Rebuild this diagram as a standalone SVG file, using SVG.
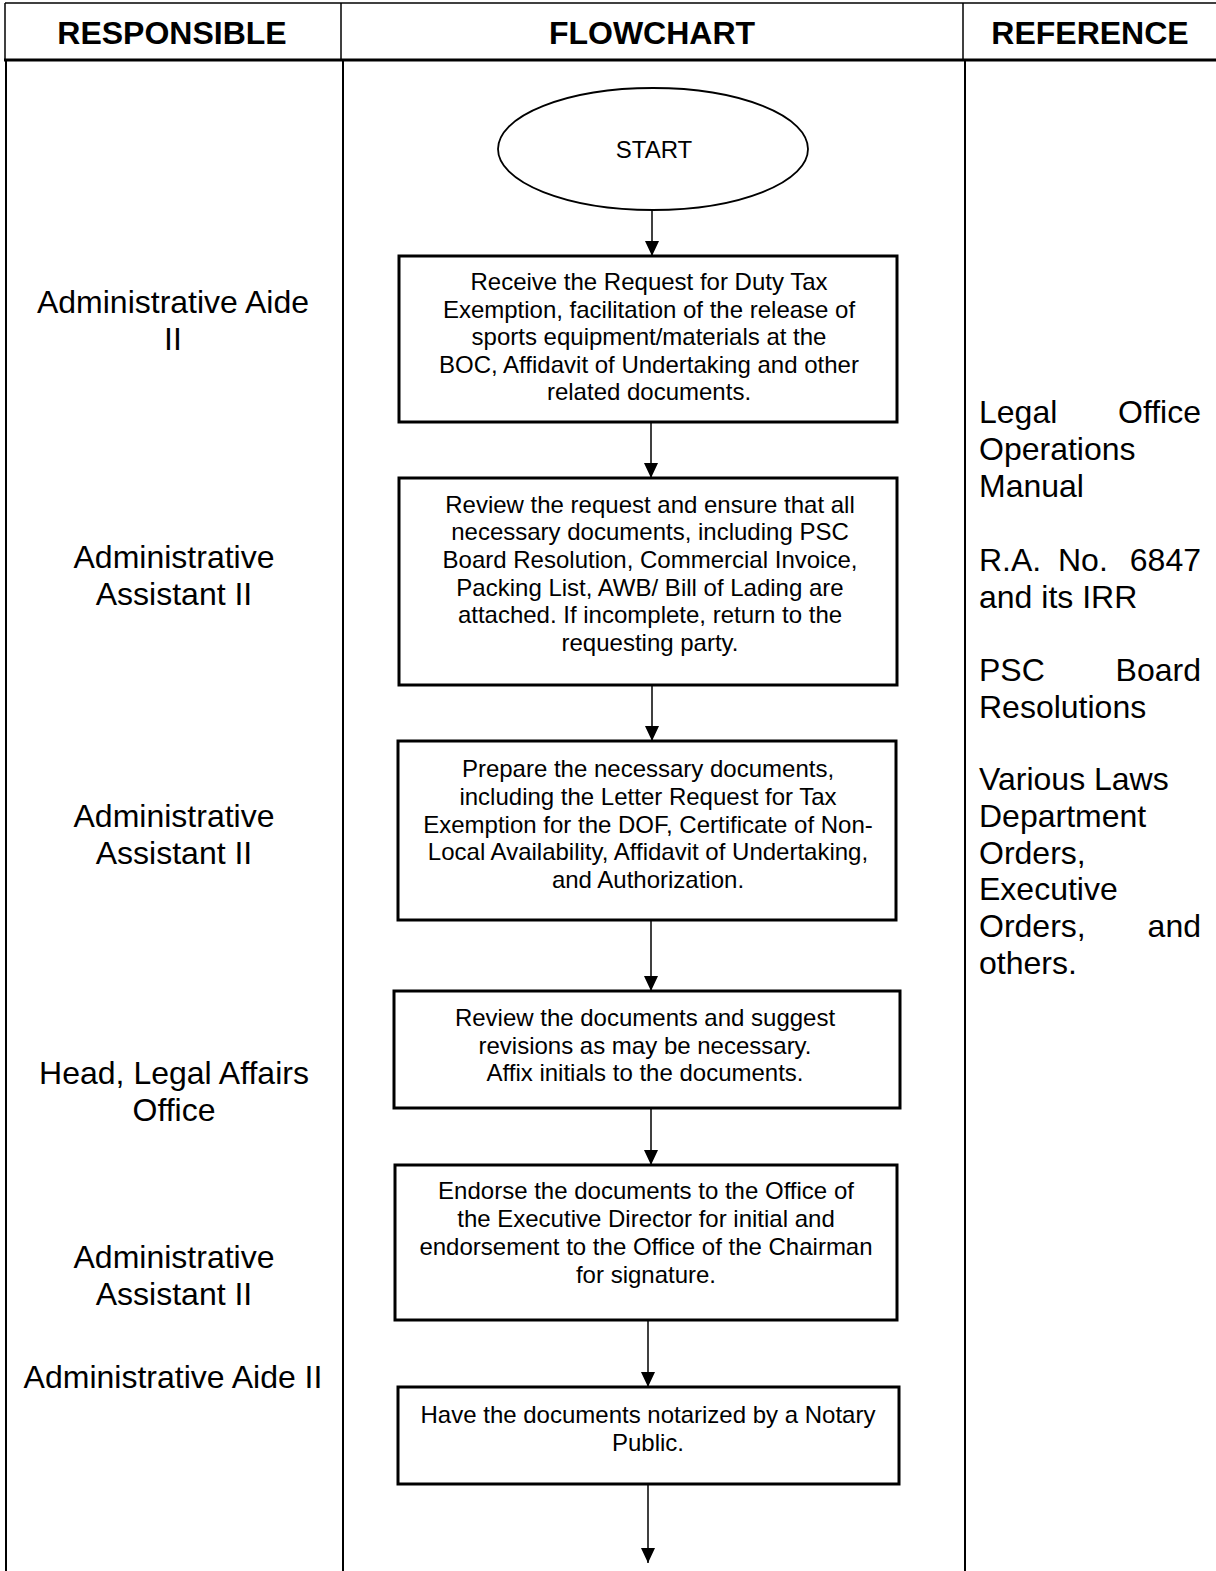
<svg xmlns="http://www.w3.org/2000/svg" width="1216" height="1571" viewBox="0 0 1216 1571">
<style>
.hd{font-family:"Liberation Sans",Arial,sans-serif;font-weight:bold;font-size:32px;text-anchor:middle;fill:#000}
.lc{font-family:"Liberation Sans",Arial,sans-serif;font-size:32px;text-anchor:middle;fill:#000}
.rc{font-family:"Liberation Sans",Arial,sans-serif;font-size:32px;fill:#000}
.bx{font-family:"Liberation Sans",Arial,sans-serif;font-size:24px;text-anchor:middle;fill:#000}
.box{fill:#fff;stroke:#000;stroke-width:3}
.conn{stroke:#000;stroke-width:1.5;fill:none}
.tl{stroke:#000;fill:none}
</style>
<defs>
<marker id="ah" viewBox="0 0 15 14" refX="15" refY="7" markerWidth="15" markerHeight="14" markerUnits="userSpaceOnUse" orient="auto">
<path d="M0,0 L15,7 L0,14 Z" fill="#000"/>
</marker>
</defs>
<rect width="1216" height="1571" fill="#fff"/>
<g id="table">
<line class="tl" x1="5" y1="3" x2="1216" y2="3" stroke-width="1.5" stroke="#333"/>
<line class="tl" x1="5" y1="3" x2="5" y2="60" stroke-width="1.5" stroke="#333"/>
<line class="tl" x1="6" y1="60" x2="6" y2="1571" stroke-width="2"/>
<line class="tl" x1="341" y1="3" x2="341" y2="60" stroke-width="1.5" stroke="#333"/>
<line class="tl" x1="963" y1="3" x2="963" y2="60" stroke-width="1.5" stroke="#333"/>
<line class="tl" x1="343" y1="60" x2="343" y2="1571" stroke-width="2"/>
<line class="tl" x1="965" y1="60" x2="965" y2="1571" stroke-width="2"/>
<line class="tl" x1="4" y1="60" x2="1216" y2="60" stroke-width="3"/>
<text class="hd" x="172" y="44">RESPONSIBLE</text>
<text class="hd" x="652" y="44">FLOWCHART</text>
<text class="hd" x="1090" y="44">REFERENCE</text>
</g>
<g id="responsible">
<text class="lc" x="173" y="313">Administrative Aide</text>
<text class="lc" x="173" y="350">II</text>
<text class="lc" x="174" y="568">Administrative</text>
<text class="lc" x="174" y="605">Assistant II</text>
<text class="lc" x="174" y="827">Administrative</text>
<text class="lc" x="174" y="864">Assistant II</text>
<text class="lc" x="174" y="1084">Head, Legal Affairs</text>
<text class="lc" x="174" y="1121">Office</text>
<text class="lc" x="174" y="1268">Administrative</text>
<text class="lc" x="174" y="1305">Assistant II</text>
<text class="lc" x="173" y="1388">Administrative Aide II</text>
</g>
<g id="reference">
<text class="rc" x="979" y="423">Legal</text>
<text class="rc" x="1201" y="423" text-anchor="end">Office</text>
<text class="rc" x="979" y="460">Operations</text>
<text class="rc" x="979" y="497">Manual</text>
<text class="rc" x="979" y="571">R.A.</text>
<text class="rc" x="1058" y="571">No.</text>
<text class="rc" x="1201" y="571" text-anchor="end">6847</text>
<text class="rc" x="979" y="608">and its IRR</text>
<text class="rc" x="979" y="681">PSC</text>
<text class="rc" x="1201" y="681" text-anchor="end">Board</text>
<text class="rc" x="979" y="718">Resolutions</text>
<text class="rc" x="979" y="790">Various Laws</text>
<text class="rc" x="979" y="827">Department</text>
<text class="rc" x="979" y="864">Orders,</text>
<text class="rc" x="979" y="900">Executive</text>
<text class="rc" x="979" y="937">Orders,</text>
<text class="rc" x="1201" y="937" text-anchor="end">and</text>
<text class="rc" x="979" y="974">others.</text>
</g>
<g id="connectors">
<line class="conn" x1="652" y1="210" x2="652" y2="256" marker-end="url(#ah)"/>
<line class="conn" x1="651" y1="422" x2="651" y2="478" marker-end="url(#ah)"/>
<line class="conn" x1="652" y1="685" x2="652" y2="741" marker-end="url(#ah)"/>
<line class="conn" x1="651" y1="920" x2="651" y2="991" marker-end="url(#ah)"/>
<line class="conn" x1="651" y1="1108" x2="651" y2="1165" marker-end="url(#ah)"/>
<line class="conn" x1="648" y1="1320" x2="648" y2="1387" marker-end="url(#ah)"/>
<line class="conn" x1="648" y1="1484" x2="648" y2="1563" marker-end="url(#ah)"/>
</g>
<g id="start">
<ellipse cx="653" cy="149" rx="155" ry="61" fill="#fff" stroke="#000" stroke-width="1.8"/>
<text class="bx" x="654" y="158">START</text>
</g>
<g id="step1">
<rect class="box" x="399" y="256" width="498" height="166"/>
<text class="bx" x="649" y="290">Receive the Request for Duty Tax</text>
<text class="bx" x="649" y="318">Exemption, facilitation of the release of</text>
<text class="bx" x="649" y="345">sports equipment/materials at the</text>
<text class="bx" x="649" y="373">BOC, Affidavit of Undertaking and other</text>
<text class="bx" x="649" y="400">related documents.</text>
</g>
<g id="step2">
<rect class="box" x="399" y="478" width="498" height="207"/>
<text class="bx" x="650" y="513">Review the request and ensure that all</text>
<text class="bx" x="650" y="540">necessary documents, including PSC</text>
<text class="bx" x="650" y="568">Board Resolution, Commercial Invoice,</text>
<text class="bx" x="650" y="596">Packing List, AWB/ Bill of Lading are</text>
<text class="bx" x="650" y="623">attached. If incomplete, return to the</text>
<text class="bx" x="650" y="651">requesting party.</text>
</g>
<g id="step3">
<rect class="box" x="398" y="741" width="498" height="179"/>
<text class="bx" x="648" y="777">Prepare the necessary documents,</text>
<text class="bx" x="648" y="805">including the Letter Request for Tax</text>
<text class="bx" x="648" y="833">Exemption for the DOF, Certificate of Non-</text>
<text class="bx" x="648" y="860">Local Availability, Affidavit of Undertaking,</text>
<text class="bx" x="648" y="888">and Authorization.</text>
</g>
<g id="step4">
<rect class="box" x="394" y="991" width="506" height="117"/>
<text class="bx" x="645" y="1026">Review the documents and suggest</text>
<text class="bx" x="645" y="1054">revisions as may be necessary.</text>
<text class="bx" x="645" y="1081">Affix initials to the documents.</text>
</g>
<g id="step5">
<rect class="box" x="395" y="1165" width="502" height="155"/>
<text class="bx" x="646" y="1199">Endorse the documents to the Office of</text>
<text class="bx" x="646" y="1227">the Executive Director for initial and</text>
<text class="bx" x="646" y="1255">endorsement to the Office of the Chairman</text>
<text class="bx" x="646" y="1283">for signature.</text>
</g>
<g id="step6">
<rect class="box" x="398" y="1387" width="501" height="97"/>
<text class="bx" x="648" y="1423">Have the documents notarized by a Notary</text>
<text class="bx" x="648" y="1451">Public.</text>
</g>
</svg>
